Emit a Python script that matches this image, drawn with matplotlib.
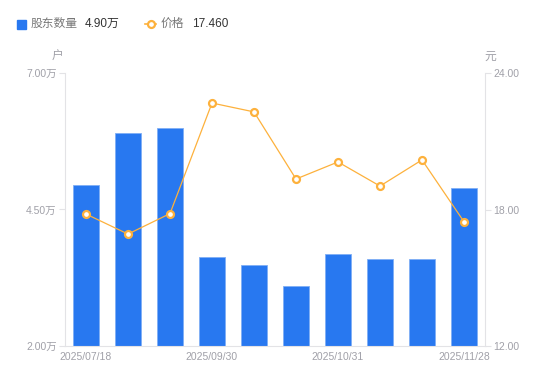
import matplotlib.pyplot as plt
import numpy as np

plt.rcParams['font.family'] = ['Liberation Sans', 'Noto Sans CJK SC', 'DejaVu Sans']

dates = ["2025/07/18", "", "", "2025/09/30", "", "", "2025/10/31", "", "", "2025/11/28"]
holders = [4.95, 5.90, 5.99, 3.63, 3.48, 3.10, 3.68, 3.59, 3.59, 4.90]  # 万户
price = [17.80, 16.92, 17.82, 22.68, 22.29, 19.34, 20.09, 19.03, 20.18, 17.46]

blue = "#2878F0"
orange = "#FDB13C"
grey = "#A0A0A8"
axis_c = "#E3E3E6"

fig = plt.figure(figsize=(5.5, 3.81), dpi=100)
ax = fig.add_axes([65/550, 35/381, 420/550, 273/381])
ax2 = ax.twinx()

x = np.arange(len(holders))
ax.bar(x, holders, width=0.6, color=blue, edgecolor="#7FAEF5", linewidth=0.6, zorder=2)
ax.set_xlim(-0.5, len(holders) - 0.5)
ax.set_ylim(2.0, 7.0)
ax.set_yticks([2.0, 4.5, 7.0])
ax.set_yticklabels(["2.00万", "4.50万", "7.00万"])
ax.set_xticks(x)
ax.set_xticklabels(dates)

ax2.plot(x, price, color=orange, lw=0.9, marker="o", ms=5, mfc="white",
         mec=orange, mew=1.6, zorder=3)
ax2.set_ylim(12, 24)
ax2.set_yticks([12, 18, 24])
ax2.set_yticklabels(["12.00", "18.00", "24.00"])

for a in (ax, ax2):
    for s in a.spines.values():
        s.set_visible(False)
    a.tick_params(colors=grey, labelsize=7.5, length=4, width=0.8, color=axis_c, pad=2)
ax.tick_params(axis="x", length=0, pad=4)
ax.spines["left"].set_visible(True)
ax.spines["left"].set_color(axis_c)
ax.spines["bottom"].set_visible(True)
ax.spines["bottom"].set_color(axis_c)
ax2.spines["right"].set_visible(True)
ax2.spines["right"].set_color(axis_c)

fig.text(58/550, 1 - 57/381, "户", color=grey, fontsize=8.5, ha="center", va="center")
fig.text(490/550, 1 - 57/381, "元", color=grey, fontsize=8.5, ha="center", va="center")

# legend
fig.patches.append(plt.Rectangle((17/550, 1 - 29/381), 9/550, 9/381, color=blue,
                                 transform=fig.transFigure, figure=fig))
fig.text(31/550, 1 - 24/381, "股东数量", color="#777777", fontsize=8.5, va="center")
fig.text(85/550, 1 - 24/381, "4.90万", color="#333333", fontsize=8.5, va="center")
fig.add_artist(plt.Line2D([145/550, 156/550], [1 - 24/381] * 2, color=orange, lw=1.2,
                          transform=fig.transFigure))
fig.add_artist(plt.Line2D([150.5/550], [1 - 24/381], color=orange, marker="o", ms=5,
                          mfc="white", mew=1.6, transform=fig.transFigure))
fig.text(161/550, 1 - 24/381, "价格", color="#777777", fontsize=8.5, va="center")
fig.text(192/550, 1 - 24/381, "17.460", color="#333333", fontsize=8.5, va="center")

fig.savefig("out.png", dpi=100)
